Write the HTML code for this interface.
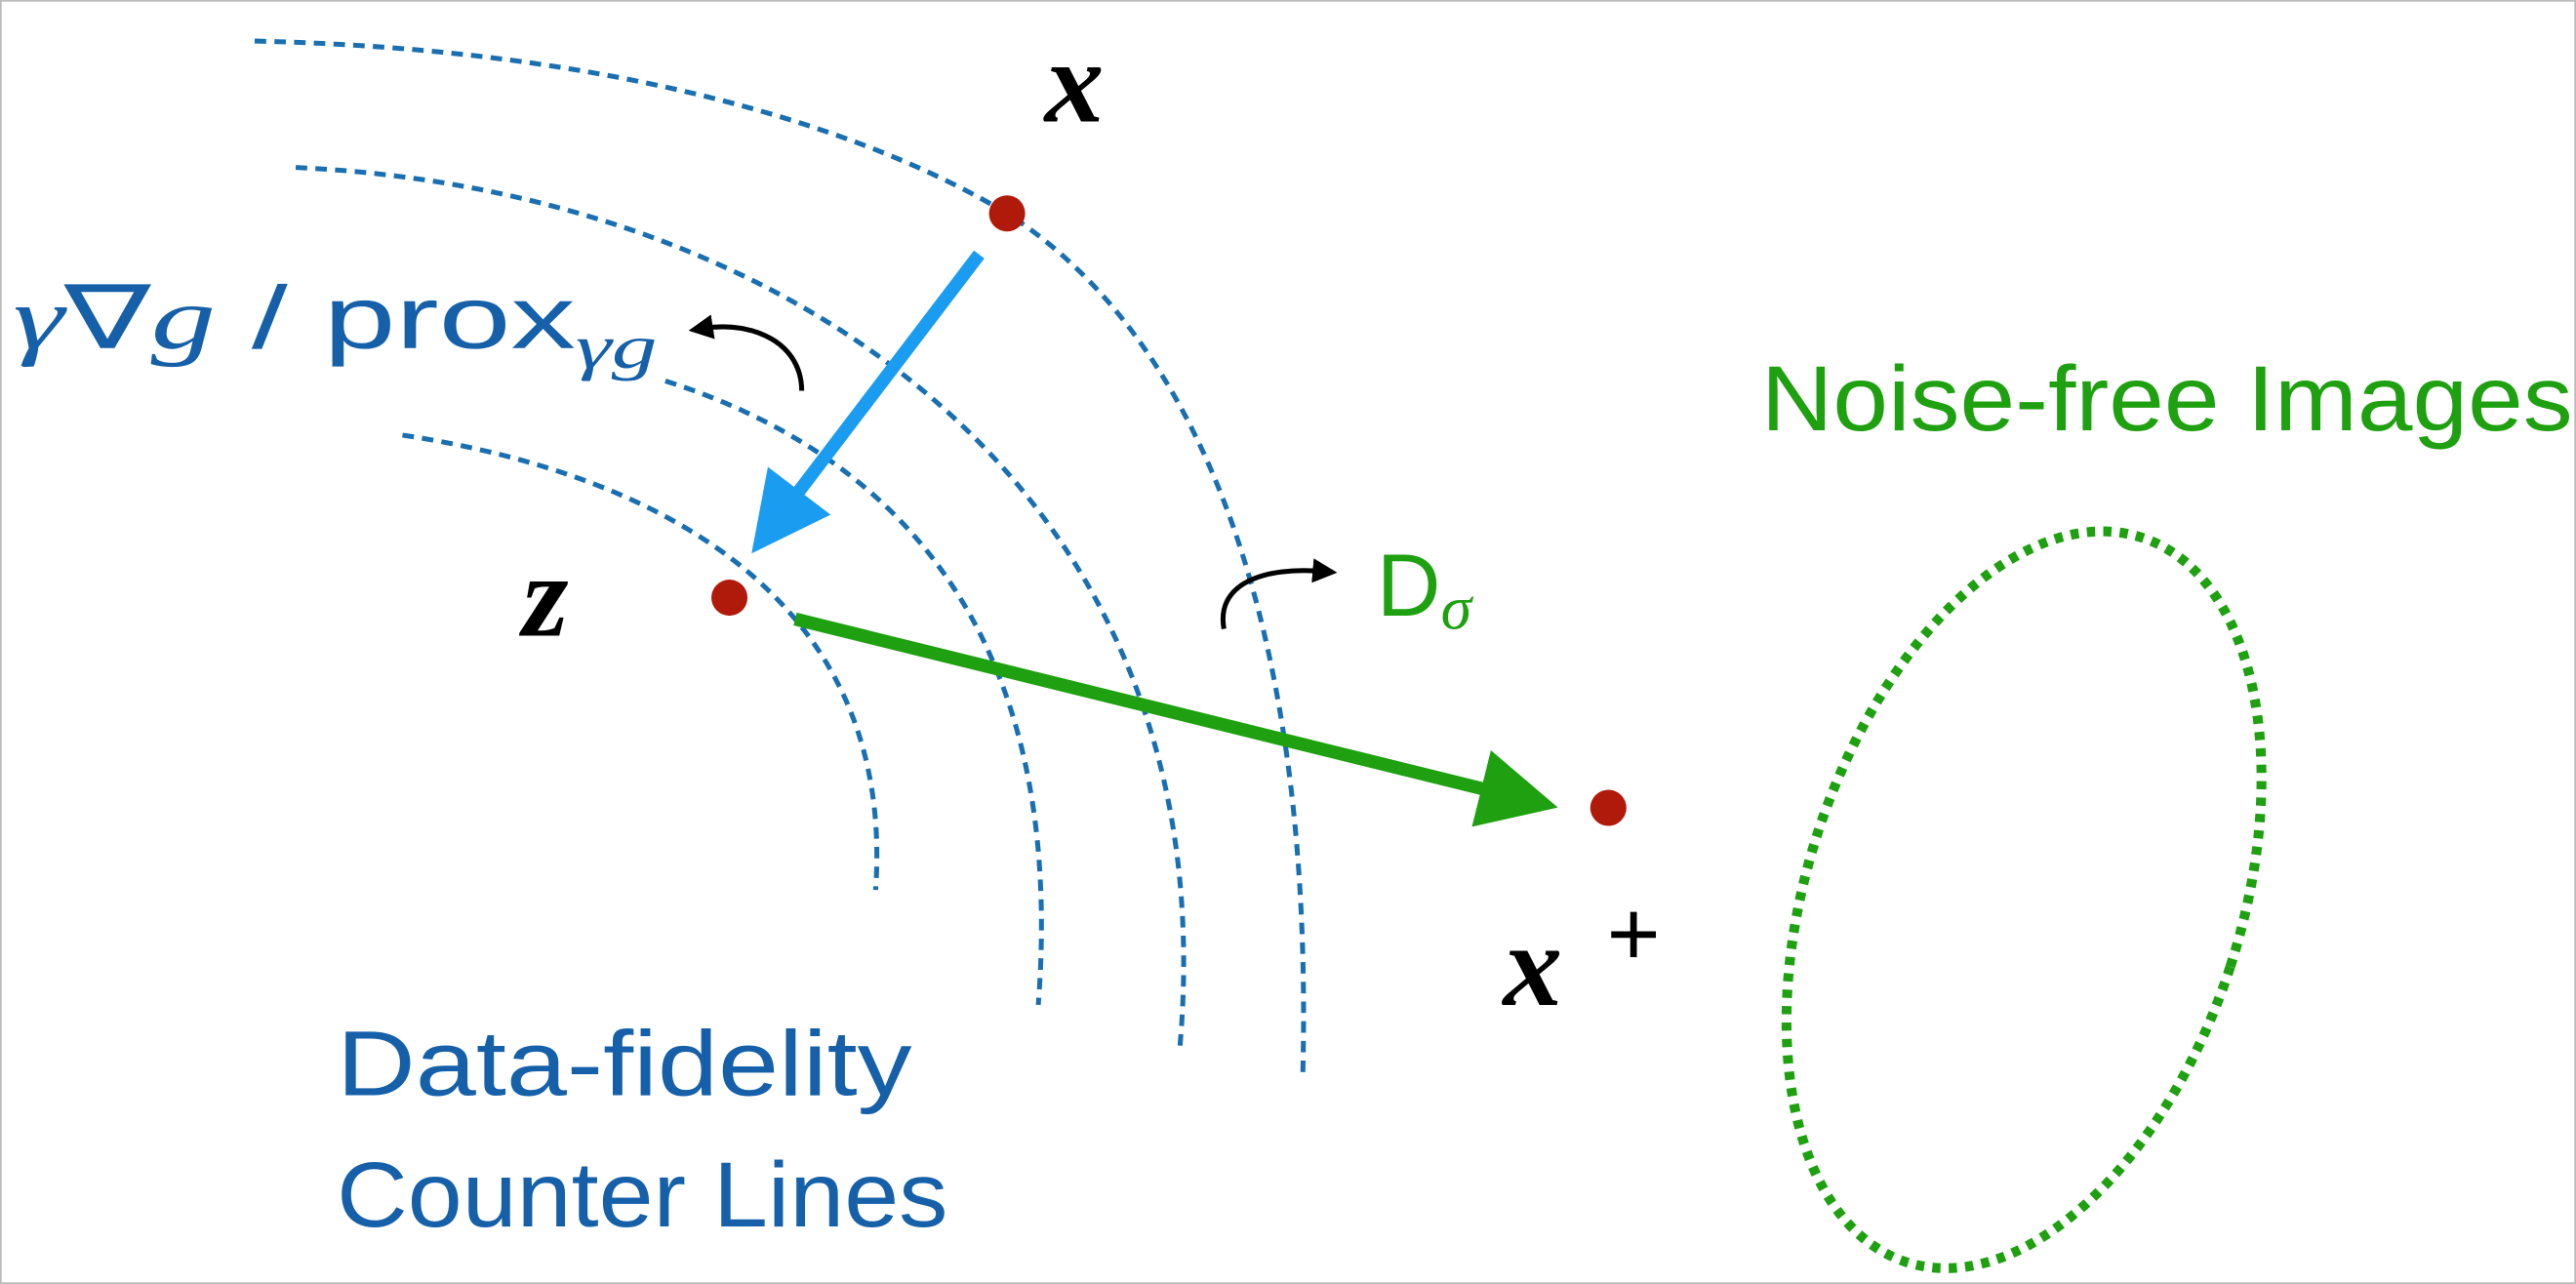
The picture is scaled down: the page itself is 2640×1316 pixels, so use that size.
<!DOCTYPE html>
<html><head><meta charset="utf-8"><style>
html,body{margin:0;padding:0;background:#fff;}
svg{display:block;}
.math{font-family:"Liberation Serif",serif;font-style:italic;font-weight:bold;}
.sans{font-family:"Liberation Sans",sans-serif;}
</style></head><body>
<svg width="2640" height="1316" viewBox="0 0 1568 782" preserveAspectRatio="none">
<defs>
<marker id="ab" markerWidth="6" markerHeight="6" refX="3" refY="3" orient="auto" markerUnits="strokeWidth"><path d="M0,0 L6,3 L0,6 z" fill="#1a9cf0"/></marker>
<marker id="ag" markerWidth="6" markerHeight="6" refX="3" refY="3" orient="auto" markerUnits="strokeWidth"><path d="M0,0 L6,3 L0,6 z" fill="#1ea010"/></marker>
<marker id="ak" markerWidth="5" markerHeight="5" refX="2" refY="2.5" orient="auto" markerUnits="strokeWidth"><path d="M0,0 L5,2.5 L0,5 z" fill="#000"/></marker>
</defs>
<rect x="0.5" y="0.5" width="1567" height="781" fill="#fff" stroke="#bbb" stroke-width="1"/>
<g fill="none" stroke="#1a6fb0" stroke-width="3" stroke-dasharray="7 5">
<path d="M155,25 C380,30 530,80 613,130 C730,205 800,380 793,655"/>
<path d="M180,102 C470,115 750,290 718,640"/>
<path d="M405,232 C540,275 650,380 632,612"/>
<path d="M245,265 C410,290 545,370 533,542"/>
</g>
<line x1="596" y1="155" x2="472" y2="318" stroke="#1a9cf0" stroke-width="8" marker-end="url(#ab)"/>
<line x1="484" y1="377" x2="925" y2="486" stroke="#1ea010" stroke-width="8" marker-end="url(#ag)"/>
<path d="M488,238 C488,210 460,195 428,200" fill="none" stroke="#000" stroke-width="3" marker-end="url(#ak)"/>
<path d="M745,383 C740,355 770,345 805,348" fill="none" stroke="#000" stroke-width="3" marker-end="url(#ak)"/>
<circle cx="613" cy="130" r="11" fill="#b01a0a"/>
<circle cx="444" cy="364" r="11" fill="#b01a0a"/>
<circle cx="979" cy="492" r="11" fill="#b01a0a"/>
<ellipse cx="1232" cy="548" rx="132" ry="232" transform="rotate(18 1232 548)" fill="none" stroke="#1ea010" stroke-width="6" stroke-dasharray="5 5"/>
<text x="636" y="74" class="math" font-size="72">x</text>
<text x="318" y="387" class="math" font-size="72">z</text>
<text x="915" y="612" class="math" font-size="72">x</text>
<text x="978" y="588" font-family="Liberation Sans,sans-serif" font-size="56">+</text>
<text x="8" y="212" fill="#1560a8" font-size="54" textLength="392" lengthAdjust="spacingAndGlyphs"><tspan font-family="Liberation Serif,serif" font-style="italic">γ</tspan><tspan font-family="Liberation Serif,serif">∇</tspan><tspan font-family="Liberation Serif,serif" font-style="italic">g</tspan><tspan font-family="Liberation Sans,sans-serif"> / prox</tspan><tspan font-family="Liberation Serif,serif" font-style="italic" font-size="38" dy="12">γg</tspan></text>
<text x="838" y="375" fill="#1ea010" font-size="54"><tspan font-family="Liberation Sans,sans-serif">D</tspan><tspan font-family="Liberation Serif,serif" font-style="italic" font-size="38" dy="8">σ</tspan></text>
<text x="1072" y="262" fill="#1ea010" class="sans" font-size="56" textLength="494" lengthAdjust="spacingAndGlyphs">Noise-free Images</text>
<text x="205" y="667" fill="#1560a8" class="sans" font-size="56" textLength="350" lengthAdjust="spacingAndGlyphs">Data-fidelity</text>
<text x="205" y="747" fill="#1560a8" class="sans" font-size="56" textLength="372" lengthAdjust="spacingAndGlyphs">Counter Lines</text>
</svg>
</body></html>
